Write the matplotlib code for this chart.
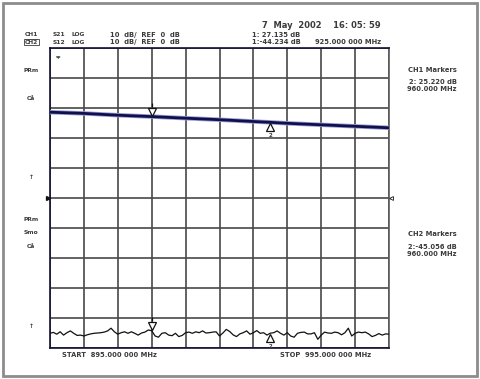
import numpy as np
import matplotlib
matplotlib.use("Agg")
import matplotlib.pyplot as plt
from matplotlib.patches import Rectangle
from matplotlib.transforms import offset_copy

# ---------------- data ----------------
start_mhz = 895.0
stop_mhz = 995.0
ref_db = 0.0
db_per_div = 10.0

ch1_freq = [895, 905, 915, 925, 935, 945, 955, 960, 965, 975, 985, 995]
ch1_db = [28.6, 28.2, 27.6, 27.135, 26.6, 26.1, 25.5, 25.22, 24.9, 24.4, 23.9, 23.4]

ch2_freq = list(range(895, 996))
ch2_db = [
    -45.1, -44.8, -45.4, -44.6, -45.7, -44.9, -44.3, -45.1, -45.8, -45.7,
    -46.0, -45.6, -45.3, -45.1, -45.0, -44.9, -44.7, -44.3, -43.4, -44.6,
    -45.4, -44.9, -44.6, -45.1, -44.6, -45.1, -45.7, -45.0, -44.7, -44.0,
    -44.234, -46.0, -46.4, -45.1, -44.9, -45.7, -45.9, -45.1, -46.2, -45.8,
    -44.9, -44.7, -45.1, -44.6, -44.9, -44.3, -45.0, -44.9, -44.7, -44.6,
    -46.0, -45.0, -43.8, -44.5, -45.6, -46.2, -45.3, -44.9, -44.3, -45.4,
    -44.9, -44.2, -45.1, -44.9, -45.7, -45.056, -44.9, -44.3, -45.1, -45.7,
    -44.9, -46.0, -46.4, -45.1, -44.8, -44.7, -45.3, -45.3, -44.9, -47.1,
    -45.7, -44.7, -45.0, -45.1, -44.7, -44.9, -45.6, -44.9, -43.4, -46.0,
    -45.1, -44.7, -44.9, -44.7, -45.3, -46.2, -45.8, -45.2, -45.7, -45.3,
    -45.4,
]

marker_freqs = [925.0, 960.0]
ch1_marker_db = [27.135, 25.220]
ch2_marker_db = [-44.234, -45.056]

# ---------------- figure ----------------
W, H = 481, 379
fig = plt.figure(figsize=(W / 100, H / 100), dpi=100)
fig.patch.set_facecolor("white")

FONT = "DejaVu Sans"
TXT = "#3a3a3a"


def ft(x, y, s, size=4.9, weight="bold", **kw):
    kw.setdefault("ha", "left")
    kw.setdefault("va", "center")
    kw.setdefault("color", TXT)
    return fig.text(x / W, 1 - y / H, s, fontsize=size, family=FONT,
                    fontweight=weight, **kw)


# outer frame
fig.add_artist(Rectangle((3 / W, 3 / H), 474 / W, 373 / H, transform=fig.transFigure,
                         fill=False, ec="#8c8c8c", lw=2.0))

L, T, R, B = 50, 48, 389, 348
ax = fig.add_axes([L / W, 1 - B / H, (R - L) / W, (B - T) / H])
ax.set_xlim(start_mhz, stop_mhz)
half = 5 * db_per_div
ax.set_ylim(ref_db - half, ref_db + half)
ax.set_xticks(np.linspace(start_mhz, stop_mhz, 11))
ax.set_yticks(np.linspace(ref_db - half, ref_db + half, 11))
ax.tick_params(length=0, labelbottom=False, labelleft=False)
ax.grid(True, color="#484848", lw=1.2)
for s in ax.spines.values():
    s.set_color("#101030")
    s.set_linewidth(1.2)
ax.spines["right"].set_color("#5a5a5a")
ax.set_facecolor("white")

# traces
ax.plot(ch1_freq, ch1_db, color="#9a9ad8", lw=3.2, solid_capstyle="butt", zorder=3)
ax.plot(ch1_freq, ch1_db, color="#10104a", lw=2.0, solid_capstyle="butt", zorder=4)
ax.plot(ch2_freq, ch2_db, color="#111111", lw=0.9, zorder=4)

# markers
up = offset_copy(ax.transData, fig=fig, x=0, y=3.6, units="points")
upt = offset_copy(ax.transData, fig=fig, x=0, y=8.2, units="points")
dn = offset_copy(ax.transData, fig=fig, x=0, y=-3.6, units="points")
dnt = offset_copy(ax.transData, fig=fig, x=0, y=-9.3, units="points")
for mdb in (ch1_marker_db[0], ch2_marker_db[0]):
    ax.plot([marker_freqs[0]], [mdb], marker="v", ms=5.2, mfc="white", mec="#111111",
            mew=0.9, transform=up, zorder=6, clip_on=False)
    ax.plot([marker_freqs[0]], [mdb], marker="|", ms=3.0, mec="#111111",
            mew=0.9, transform=upt, zorder=6, clip_on=False)
for mdb in (ch1_marker_db[1], ch2_marker_db[1]):
    ax.plot([marker_freqs[1]], [mdb], marker="^", ms=5.2, mfc="white", mec="#111111",
            mew=0.9, transform=dn, zorder=6, clip_on=False)
    ax.text(marker_freqs[1], mdb, "2", transform=dnt, ha="center", va="center",
            fontsize=4.0, family=FONT, fontweight="bold", color=TXT, zorder=6,
            clip_on=False)

# reference position arrows
ax.plot([start_mhz], [ref_db], marker=">", ms=2.8, color="#111111", clip_on=False, zorder=6,
        transform=offset_copy(ax.transData, fig=fig, x=-1.5, y=0, units="points"))
ax.plot([stop_mhz], [ref_db], marker="<", ms=2.8, mfc="white", mec="#111111", mew=0.6,
        clip_on=False, zorder=6,
        transform=offset_copy(ax.transData, fig=fig, x=1.5, y=0, units="points"))

# ---------------- annotations ----------------
ft(262, 25, "7  May  2002    16: 05: 59", size=6.0)
ft(25, 35, "CH1", size=4.3)
fig.add_artist(plt.Line2D([25 / W, 37 / W], [1 - 38.5 / H, 1 - 38.5 / H],
                          transform=fig.transFigure, color=TXT, lw=0.6))
ft(25, 42, "CH2", size=4.3,
   bbox=dict(boxstyle="square,pad=0.15", fc="white", ec=TXT, lw=0.6))
ft(53, 35, "S21", size=4.3)
ft(53, 42, "S12", size=4.3)
ft(72, 35, "LOG", size=4.3)
ft(72, 42, "LOG", size=4.3)
ft(110, 35, "10  dB/  REF  0  dB")
ft(110, 42, "10  dB/  REF  0  dB")
ft(252, 35, "1: 27.135 dB")
ft(252, 42, "1:-44.234 dB")
ft(315, 42, "925.000 000 MHz")

ft(56, 57, "sp", size=3.0)

ft(24, 71, "PRm", size=4.3)
ft(27, 98, "Cå", size=4.3)
ft(31, 178, "↑", size=4.3, ha="center")
ft(24, 219, "PRm", size=4.3)
ft(24, 233, "Smo", size=4.3)
ft(27, 247, "Cå", size=4.3)
ft(31, 327, "↑", size=4.3, ha="center")

ft(457, 70, "CH1 Markers", ha="right")
ft(457, 82, "2: 25.220 dB", ha="right")
ft(457, 89, "960.000 MHz", ha="right")
ft(457, 234, "CH2 Markers", ha="right")
ft(457, 247, "2:-45.056 dB", ha="right")
ft(457, 254, "960.000 MHz", ha="right")

ft(62, 355, "START  895.000 000 MHz")
ft(371, 355, "STOP  995.000 000 MHz", ha="right")

fig.savefig("out.png", dpi=100, facecolor="white")
